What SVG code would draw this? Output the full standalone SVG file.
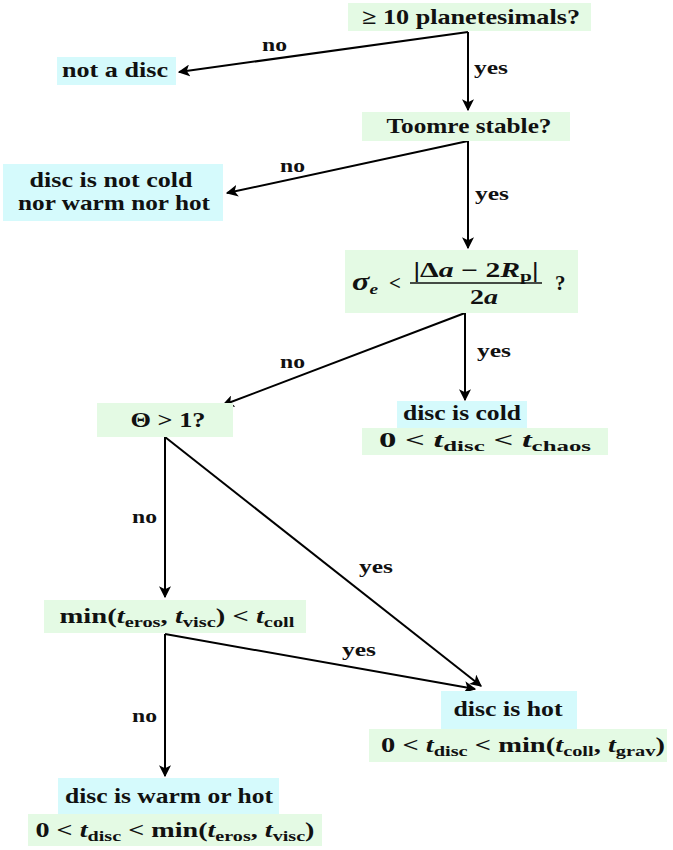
<svg xmlns="http://www.w3.org/2000/svg" width="673" height="850" viewBox="0 0 673 850">
  <style>
    .g { fill: #e4fae4; }
    .c { fill: #d5fafc; }
    text { font-family: "Liberation Serif", "DejaVu Serif", serif; font-weight: bold; fill: #111; }
    .t { font-size: 21px; }
    .lbl { font-size: 18px; }
    .i { font-style: italic; }
    .sub { font-size: 15px; }
    .edge { stroke: #000; stroke-width: 2; fill: none; marker-end: url(#arr); }
  </style>
  <defs>
    <marker id="arr" viewBox="0 0 10 10" refX="9" refY="5" markerWidth="6" markerHeight="6" orient="auto" markerUnits="strokeWidth">
      <path d="M0,0 L10,5 L0,10 L2.5,5 z" fill="#000"/>
    </marker>
  </defs>
  <rect width="673" height="850" fill="#fff"/>

  <!-- connectors -->
  <g id="connectors">
    <path class="edge" d="M468,32 L179,72"/>
    <path class="edge" d="M468,32 L468,110"/>
    <path class="edge" d="M468,141 L227,193"/>
    <path class="edge" d="M468,141 L468,248"/>
    <path class="edge" d="M465,313 L223,405"/>
    <path class="edge" d="M465,313 L465,400"/>
    <path class="edge" d="M165,437 L165,597"/>
    <path class="edge" d="M165,437 L481,686"/>
    <path class="edge" d="M165,634 L475,689"/>
    <path class="edge" d="M165,634 L165,776"/>
    <text class="lbl" x="262" y="51" textLength="25" lengthAdjust="spacingAndGlyphs">no</text>
    <text class="lbl" x="474" y="74" textLength="34" lengthAdjust="spacingAndGlyphs">yes</text>
    <text class="lbl" x="280" y="172" textLength="25" lengthAdjust="spacingAndGlyphs">no</text>
    <text class="lbl" x="475" y="200" textLength="34" lengthAdjust="spacingAndGlyphs">yes</text>
    <text class="lbl" x="280" y="368" textLength="25" lengthAdjust="spacingAndGlyphs">no</text>
    <text class="lbl" x="477" y="357" textLength="34" lengthAdjust="spacingAndGlyphs">yes</text>
    <text class="lbl" x="132" y="523" textLength="25" lengthAdjust="spacingAndGlyphs">no</text>
    <text class="lbl" x="359" y="573" textLength="34" lengthAdjust="spacingAndGlyphs">yes</text>
    <text class="lbl" x="342" y="656" textLength="34" lengthAdjust="spacingAndGlyphs">yes</text>
    <text class="lbl" x="132" y="722" textLength="25" lengthAdjust="spacingAndGlyphs">no</text>
  </g>

  <!-- decision: number of planetesimals -->
  <g id="n-planetesimals">
    <rect class="g" x="348" y="3" width="243" height="28"/>
    <text class="t" x="471" y="24" text-anchor="middle" textLength="218" lengthAdjust="spacingAndGlyphs">≥ 10 planetesimals?</text>
  </g>

  <g id="not-disc">
    <rect class="c" x="57" y="57" width="119" height="28"/>
    <text class="t" x="115" y="77" text-anchor="middle" textLength="106" lengthAdjust="spacingAndGlyphs">not a disc</text>
  </g>

  <g id="toomre">
    <rect class="g" x="362" y="112" width="208" height="29"/>
    <text class="t" x="469" y="133" text-anchor="middle" textLength="165" lengthAdjust="spacingAndGlyphs">Toomre stable?</text>
  </g>

  <g id="not-cold-warm-hot">
    <rect class="c" x="3" y="164" width="220" height="57"/>
    <text class="t" x="111" y="187" text-anchor="middle" textLength="163" lengthAdjust="spacingAndGlyphs">disc is not cold</text>
    <text class="t" x="114" y="210" text-anchor="middle" textLength="192" lengthAdjust="spacingAndGlyphs">nor warm nor hot</text>
  </g>

  <!-- decision: eccentricity dispersion vs. separation -->
  <g id="sigma-test">
    <rect class="g" x="345" y="250" width="233" height="63"/>
    <text class="t" x="352" y="290" textLength="26" lengthAdjust="spacingAndGlyphs"><tspan class="i" font-size="25">σ</tspan><tspan class="sub i" dy="4">e</tspan></text>
    <text class="t" x="389" y="290">&lt;</text>
    <text class="t" x="476" y="277" text-anchor="middle" textLength="125" lengthAdjust="spacingAndGlyphs">|Δ<tspan class="i">a</tspan> − 2<tspan class="i">R</tspan><tspan class="sub" dy="4">p</tspan><tspan dy="-4">|</tspan></text>
    <line x1="410" y1="283" x2="542" y2="283" stroke="#111" stroke-width="1.5"/>
    <text class="t" x="484" y="304" text-anchor="middle" textLength="28" lengthAdjust="spacingAndGlyphs">2<tspan class="i">a</tspan></text>
    <text class="t" x="555" y="290">?</text>
  </g>

  <g id="theta">
    <rect class="g" x="97" y="403" width="136" height="34"/>
    <text class="t" x="168" y="427" text-anchor="middle" textLength="75" lengthAdjust="spacingAndGlyphs">Θ &gt; 1?</text>
  </g>

  <g id="cold">
    <rect class="c" x="397" y="401" width="130" height="27"/>
    <text class="t" x="462" y="420" text-anchor="middle" textLength="118" lengthAdjust="spacingAndGlyphs">disc is cold</text>
    <rect class="g" x="362" y="428" width="246" height="27"/>
    <text class="t" x="485" y="447" text-anchor="middle" textLength="212" lengthAdjust="spacingAndGlyphs">0 &lt; <tspan class="i">t</tspan><tspan class="sub" dy="4">disc</tspan><tspan dy="-4"> &lt; </tspan><tspan class="i">t</tspan><tspan class="sub" dy="4">chaos</tspan></text>
  </g>

  <!-- decision: erosion / viscous timescale vs. collision timescale -->
  <g id="timescales">
    <rect class="g" x="44" y="600" width="262" height="33"/>
    <text class="t" x="177" y="623" text-anchor="middle" textLength="235" lengthAdjust="spacingAndGlyphs">min(<tspan class="i">t</tspan><tspan class="sub" dy="4">eros</tspan><tspan dy="-4">, </tspan><tspan class="i">t</tspan><tspan class="sub" dy="4">visc</tspan><tspan dy="-4">) &lt; </tspan><tspan class="i">t</tspan><tspan class="sub" dy="4">coll</tspan></text>
  </g>

  <g id="hot">
    <rect class="c" x="441" y="691" width="136" height="38"/>
    <text class="t" x="508" y="716" text-anchor="middle" textLength="109" lengthAdjust="spacingAndGlyphs">disc is hot</text>
    <rect class="g" x="369" y="729" width="298" height="33"/>
    <text class="t" x="523" y="752" text-anchor="middle" textLength="284" lengthAdjust="spacingAndGlyphs">0 &lt; <tspan class="i">t</tspan><tspan class="sub" dy="4">disc</tspan><tspan dy="-4"> &lt; min(</tspan><tspan class="i">t</tspan><tspan class="sub" dy="4">coll</tspan><tspan dy="-4">, </tspan><tspan class="i">t</tspan><tspan class="sub" dy="4">grav</tspan><tspan dy="-4">)</tspan></text>
  </g>

  <g id="warm-or-hot">
    <rect class="c" x="58" y="778" width="221" height="36"/>
    <text class="t" x="169" y="803" text-anchor="middle" textLength="208" lengthAdjust="spacingAndGlyphs">disc is warm or hot</text>
    <rect class="g" x="28" y="814" width="294" height="32"/>
    <text class="t" x="175" y="837" text-anchor="middle" textLength="279" lengthAdjust="spacingAndGlyphs">0 &lt; <tspan class="i">t</tspan><tspan class="sub" dy="4">disc</tspan><tspan dy="-4"> &lt; min(</tspan><tspan class="i">t</tspan><tspan class="sub" dy="4">eros</tspan><tspan dy="-4">, </tspan><tspan class="i">t</tspan><tspan class="sub" dy="4">visc</tspan><tspan dy="-4">)</tspan></text>
  </g>
</svg>
